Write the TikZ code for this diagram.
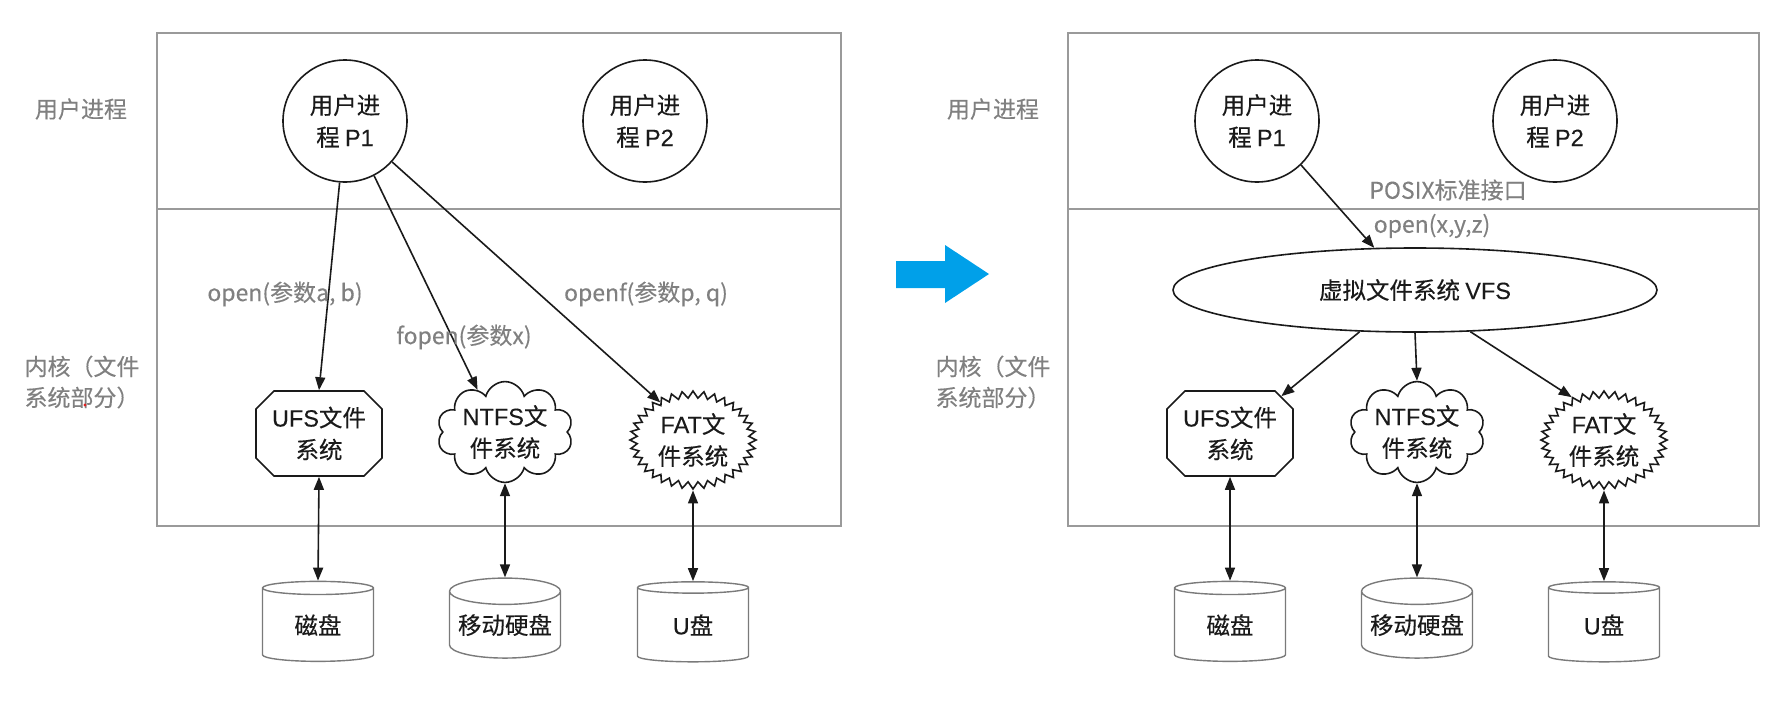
\documentclass[tikz,border=0pt]{standalone}
\usepackage{fontspec}
\setmainfont{Noto Sans CJK SC}[FakeBold=0.3]
\newfontfamily\lat{Liberation Sans}[FakeBold=0.2]
\usetikzlibrary{shapes.geometric,shapes.symbols,shapes.misc,arrows.meta,calc}

\definecolor{framegray}{HTML}{9A9A9A}
\definecolor{labelgray}{HTML}{808080}
\definecolor{inkblack}{HTML}{1A1A1A}
\definecolor{drumgray}{HTML}{7A7A7A}
\definecolor{flowblue}{HTML}{00A0E9}
\definecolor{dotred}{HTML}{E02020}

\tikzset{
  x=1pt, y=-1pt,
  txt/.style={font=\fontsize{23.5}{32}\selectfont, align=center, text=inkblack},
  glabel/.style={font=\fontsize{23}{31}\selectfont, text=labelgray, inner sep=0pt},
  layer/.style={draw=framegray, line width=1.8pt},
  proc/.style={txt, ellipse, draw=inkblack, line width=1.6pt,
    minimum width=124pt, minimum height=122pt, inner sep=0pt},
  ufsbox/.style={txt, chamfered rectangle, chamfered rectangle xsep=9pt,
    chamfered rectangle ysep=9pt, draw=inkblack, line width=1.6pt,
    minimum width=126pt, minimum height=85pt, inner sep=0pt},
  ntfsbox/.style={txt, cloud, cloud puffs=10, cloud ignores aspect,
    draw=inkblack, line width=1.6pt,
    minimum width=136pt, minimum height=80pt, inner sep=0pt},
  fatbox/.style={txt, starburst, starburst points=36, starburst point height=7pt,
    random starburst=0, draw=inkblack, line width=1.6pt,
    minimum width=126pt, minimum height=98pt, inner sep=0pt},
  vfsbox/.style={txt, ellipse, draw=inkblack, line width=1.6pt,
    minimum width=484pt, minimum height=84pt, inner sep=0pt},
  drum/.style={txt, cylinder, shape border rotate=90, aspect=0.28,
    draw=drumgray, line width=1.4pt,
    minimum width=111pt, minimum height=80pt, inner sep=0pt},
  conn/.style={draw=inkblack, line width=1.6pt,
    -{Triangle[length=13pt,width=10pt]}},
  dbl/.style={conn, {Triangle[length=13pt,width=10pt]}-{Triangle[length=13pt,width=10pt]}},
}

\begin{document}
\begin{tikzpicture}
\useasboundingbox (0,0) rectangle (1773,702);

% ---------------- left: one call per file system ----------------
\draw[layer] (157,33) rectangle (841,526);
\draw[layer] (157,209) -- (841,209);

\node[glabel] (luser) at (81,109) {用户进程};
\node[glabel, align=left] (lkern) at (82,382) {内核（文件\\系统部分）};
\fill[dotred] (85,405) circle[radius=1.6pt];

\node[proc] (lp1) at (345,121) {用户进\\程 {\lat P1}};
\node[proc] (lp2) at (645,121) {用户进\\程 {\lat P2}};

\node[ufsbox]  (lufs)  at (319,433.5) {{\lat UFS}文件\\系统};
\node[ntfsbox] (lntfs) at (505,432) {{\lat NTFS}文\\件系统};
\node[fatbox]  (lfat)  at (693,440) {{\lat FAT}文\\件系统};

\node[drum] (ldisk) at (318,625) {磁盘};
\node[drum] (lmove) at (505,625) {移动硬盘};
\node[drum] (lusb)  at (693,625) {{\lat U}盘};

\draw[conn] (lp1.-95) -- (lufs.north);
\draw[conn] (lp1.-62) -- (lntfs.123);
\draw[conn] (lp1.-41) -- (lfat.131);

\node[glabel] (lopen)  at (285,294) {open(参数a, b)};
\node[glabel] (lfopen) at (464,337) {fopen(参数x)};
\node[glabel] (lopenf) at (646,294) {openf(参数p, q)};

\draw[dbl] (lufs.south) -- (ldisk.north);
\draw[dbl] (lntfs.south) -- (lmove.north);
\draw[dbl] (lfat.south) -- (lusb.north);

% ---------------- transition arrow ----------------
\fill[flowblue] (896,261) -- (945,261) -- (945,245) -- (989,274)
  -- (945,303) -- (945,288) -- (896,288) -- cycle;

% ---------------- right: calls routed through VFS ----------------
\draw[layer] (1068,33) rectangle (1759,526);
\draw[layer] (1068,209) -- (1759,209);

\node[glabel] (ruser) at (993,109) {用户进程};
\node[glabel, align=left] (rkern) at (993,382) {内核（文件\\系统部分）};

\node[proc] (rp1) at (1257,121) {用户进\\程 {\lat P1}};
\node[proc] (rp2) at (1555,121) {用户进\\程 {\lat P2}};

\node[vfsbox] (vfs) at (1415,290) {虚拟文件系统 {\lat VFS}};

\node[ufsbox]  (rufs)  at (1230,433.5) {{\lat UFS}文件\\系统};
\node[ntfsbox] (rntfs) at (1417,432) {{\lat NTFS}文\\件系统};
\node[fatbox]  (rfat)  at (1604,440) {{\lat FAT}文\\件系统};

\node[drum] (rdisk) at (1230,625) {磁盘};
\node[drum] (rmove) at (1417,625) {移动硬盘};
\node[drum] (rusb)  at (1604,625) {{\lat U}盘};

\draw[conn] (rp1.-45) -- (vfs.134);
\node[glabel] (posix) at (1448,190) {POSIX标准接口};
\node[glabel] (ropen) at (1432,226) {open(x,y,z)};

\draw[conn] (vfs.-143) -- (rufs.36);
\draw[conn] (vfs.south) -- (rntfs.north);
\draw[conn] (vfs.-37) -- (rfat.127);

\draw[dbl] (rufs.south) -- (rdisk.north);
\draw[dbl] (rntfs.south) -- (rmove.north);
\draw[dbl] (rfat.south) -- (rusb.north);
\end{tikzpicture}
\end{document}
